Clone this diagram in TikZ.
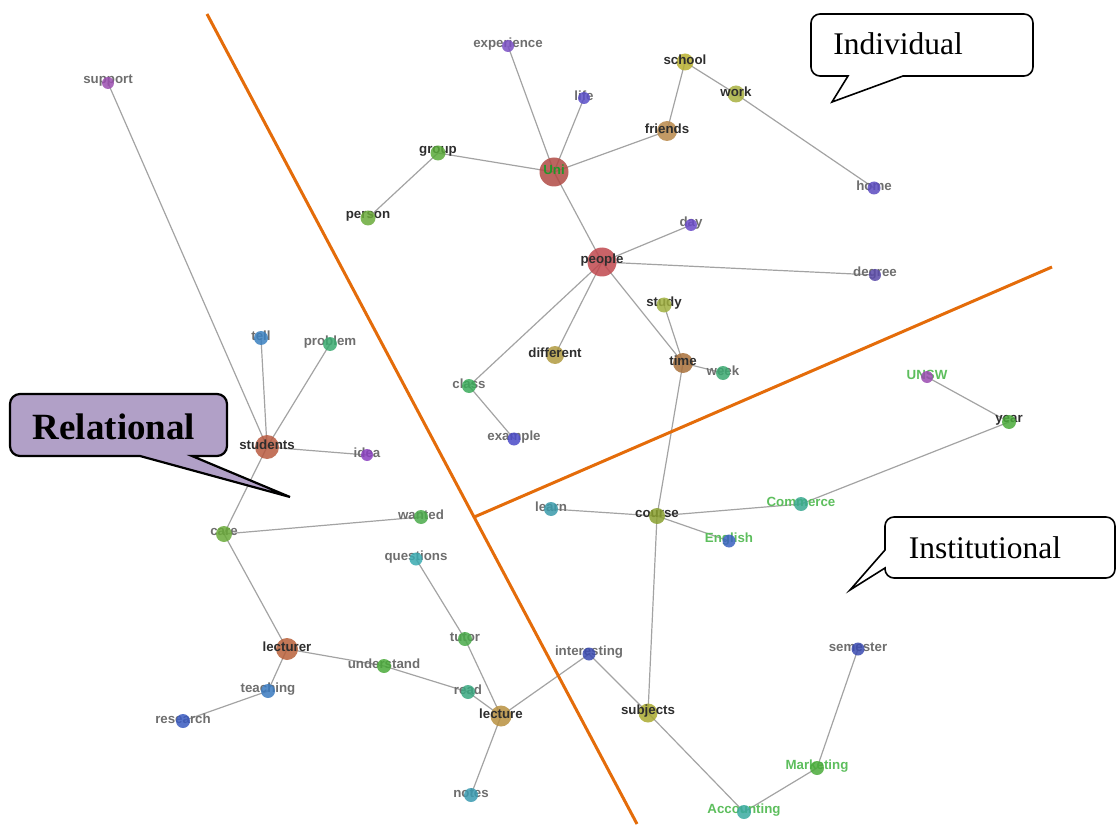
\documentclass[tikz,border=0pt]{standalone}
\usepackage{fontspec}
\setmainfont{Liberation Serif}
\setsansfont{Liberation Sans}

\pgfdeclarelayer{edgelayer}
\pgfdeclarelayer{labellayer}
\pgfdeclarelayer{toplayer}
\pgfsetlayers{edgelayer,labellayer,main,toplayer}

\definecolor{edgegray}{HTML}{A3A3A3}
\definecolor{divider}{HTML}{E46C0A}
\definecolor{lav}{HTML}{B1A0C7}
\definecolor{dark}{HTML}{2E2E2E}
\definecolor{mid}{HTML}{6E6E6E}
\definecolor{inst}{HTML}{5DBE5D}
\definecolor{unigreen}{HTML}{23962A}

\tikzset{
  word/.style={circle, inner sep=0pt, minimum size=#1, draw=none, fill opacity=0.85},
  lbl/.style={inner sep=0pt, font=\sffamily\bfseries\fontsize{13.3}{15}\selectfont},
  link/.style={draw=edgegray, line width=1.2pt},
  split/.style={draw=divider, line width=3pt},
  bubble/.style={draw=black, line width=1.6pt, fill=white, line join=miter},
  callout/.style={inner sep=0pt, font=\fontsize{31.5}{36}\selectfont},
}

% word node: name, x, y, diameter, fill (hex), text, text colour
% small dots sit over their words, large dots sit under them
\newcommand\wrd[7]{%
  \definecolor{fill-#1}{HTML}{#5}%
  \node[word=#4, fill=fill-#1] (#1) at (#2,#3) {};
  \ifdim #4>16.5pt
    \begin{pgfonlayer}{toplayer}
      \node[lbl, text=#7] (#1-l) at (#2,#3-2) {#6};
    \end{pgfonlayer}
  \else
    \begin{pgfonlayer}{labellayer}
      \node[lbl, text=#7] (#1-l) at (#2,#3-2) {#6};
    \end{pgfonlayer}
  \fi
}

\begin{document}
\begin{tikzpicture}[x=1pt,y=-1pt]
\useasboundingbox (0,0) rectangle (1116,826);

% ---- words ----
\wrd{support}{108}{83}{12pt}{9B4FB0}{support}{mid}
\wrd{experience}{508}{46}{12pt}{7A4FC4}{experience}{mid}
\wrd{life}{584}{98}{12pt}{5A4FC8}{life}{mid}
\wrd{school}{685}{62}{17pt}{B8B030}{school}{dark}
\wrd{work}{736}{94}{17pt}{A8B040}{work}{dark}
\wrd{friends}{667}{131}{20pt}{B8884A}{friends}{dark}
\wrd{uni}{554}{172}{29pt}{B04A44}{Uni}{unigreen}
\wrd{group}{438}{153}{15pt}{5AAA3A}{group}{dark}
\wrd{person}{368}{218}{15pt}{6AAA3A}{person}{dark}
\wrd{home}{874}{188}{13pt}{5A4AC0}{home}{mid}
\wrd{day}{691}{225}{12pt}{6A4AC8}{day}{mid}
\wrd{people}{602}{262}{29pt}{C0484E}{people}{dark}
\wrd{degree}{875}{275}{12pt}{5A4AA8}{degree}{mid}
\wrd{study}{664}{305}{15pt}{A0B040}{study}{dark}
\wrd{different}{555}{355}{18pt}{B09A40}{different}{dark}
\wrd{time}{683}{363}{20pt}{A8703A}{time}{dark}
\wrd{week}{723}{373}{14pt}{3AA870}{week}{mid}
\wrd{class}{469}{386}{14pt}{3AAA5A}{class}{mid}
\wrd{example}{514}{439}{13pt}{4A4AC8}{example}{mid}
\wrd{unsw}{927}{377}{12pt}{9A4AB0}{UNSW}{inst}
\wrd{year}{1009}{422}{14pt}{4AAA3A}{year}{dark}
\wrd{tell}{261}{338}{14pt}{3A80C0}{tell}{mid}
\wrd{problem}{330}{344}{14pt}{3AAA70}{problem}{mid}
\wrd{students}{267}{447}{24pt}{B85A40}{students}{dark}
\wrd{idea}{367}{455}{12pt}{8A40C0}{idea}{mid}
\wrd{care}{224}{534}{16pt}{6AAA3A}{care}{mid}
\wrd{wanted}{421}{517}{14pt}{4AAA4A}{wanted}{mid}
\wrd{learn}{551}{509}{14pt}{3A9AAA}{learn}{mid}
\wrd{course}{657}{516}{16pt}{8AA030}{course}{dark}
\wrd{commerce}{801}{504}{14pt}{3AA890}{Commerce}{inst}
\wrd{english}{729}{541}{13pt}{3A60C0}{English}{inst}
\wrd{questions}{416}{559}{13pt}{3AAAB0}{questions}{mid}
\wrd{tutor}{465}{639}{14pt}{4AAA4A}{tutor}{mid}
\wrd{lecturer}{287}{649}{22pt}{B8603A}{lecturer}{dark}
\wrd{understand}{384}{666}{14pt}{4AAA3A}{understand}{mid}
\wrd{interesting}{589}{654}{13pt}{3A4AB0}{interesting}{mid}
\wrd{read}{468}{692}{14pt}{3AA880}{read}{mid}
\wrd{teaching}{268}{691}{14pt}{3A7AC0}{teaching}{mid}
\wrd{research}{183}{721}{14pt}{3A5AC0}{research}{mid}
\wrd{lecture}{501}{716}{21pt}{B89040}{lecture}{dark}
\wrd{subjects}{648}{713}{19pt}{AAAA30}{subjects}{dark}
\wrd{semester}{858}{649}{13pt}{3A4AB0}{semester}{mid}
\wrd{marketing}{817}{768}{14pt}{4AAA3A}{Marketing}{inst}
\wrd{accounting}{744}{812}{14pt}{3AAAA0}{Accounting}{inst}
\wrd{notes}{471}{795}{14pt}{3A9AB0}{notes}{mid}

% ---- links ----
\begin{pgfonlayer}{edgelayer}
\foreach \a/\b in {support/students, tell/students, problem/students, idea/students,
  students/care, care/wanted, care/lecturer, lecturer/understand, understand/read,
  read/lecture, lecturer/teaching, teaching/research, questions/tutor, tutor/lecture,
  lecture/notes, lecture/interesting, interesting/subjects, subjects/course,
  subjects/accounting, accounting/marketing, marketing/semester, course/learn,
  course/commerce, course/english, commerce/year, year/unsw, course/time, time/week,
  time/study, time/people, people/day, people/degree, people/different, people/class,
  class/example, people/uni, uni/experience, uni/life, uni/friends, uni/group,
  group/person, friends/school, school/work, work/home}
  \draw[link] (\a.center) -- (\b.center);
\end{pgfonlayer}

% ---- dividing lines ----
\coordinate (d1a) at (207,14);
\coordinate (d1b) at (637,824);
\coordinate (d2a) at (474.3,517);
\coordinate (d2b) at (1052,267);
\draw[split] (d1a) -- (d1b);
\draw[split] (d2a) -- (d2b);

% ---- callouts ----
\draw[bubble] (832,102) -- (903,76) [rounded corners=9pt] -- (1033,76) -- (1033,14)
  -- (811,14) -- (811,76) [rounded corners=0pt] -- (848,76) -- cycle;
\node[callout] (individual) at (898,44) {Individual};

\draw[bubble] (850,590) -- (885,568) [rounded corners=9pt] -- (885,578) -- (1115,578)
  -- (1115,517) -- (885,517) [rounded corners=0pt] -- (885,550) -- cycle;
\node[callout] (institutional) at (985,548) {Institutional};

\draw[bubble, fill=lav, line width=2.2pt] (290,497) -- (192,456) [rounded corners=10pt]
  -- (227,456) -- (227,394) -- (10,394) -- (10,456) [rounded corners=0pt] -- (140,456) -- cycle;
\node[callout, font=\bfseries\fontsize{37}{42}\selectfont] (relational) at (114,427) {Relational};

\end{tikzpicture}
\end{document}
